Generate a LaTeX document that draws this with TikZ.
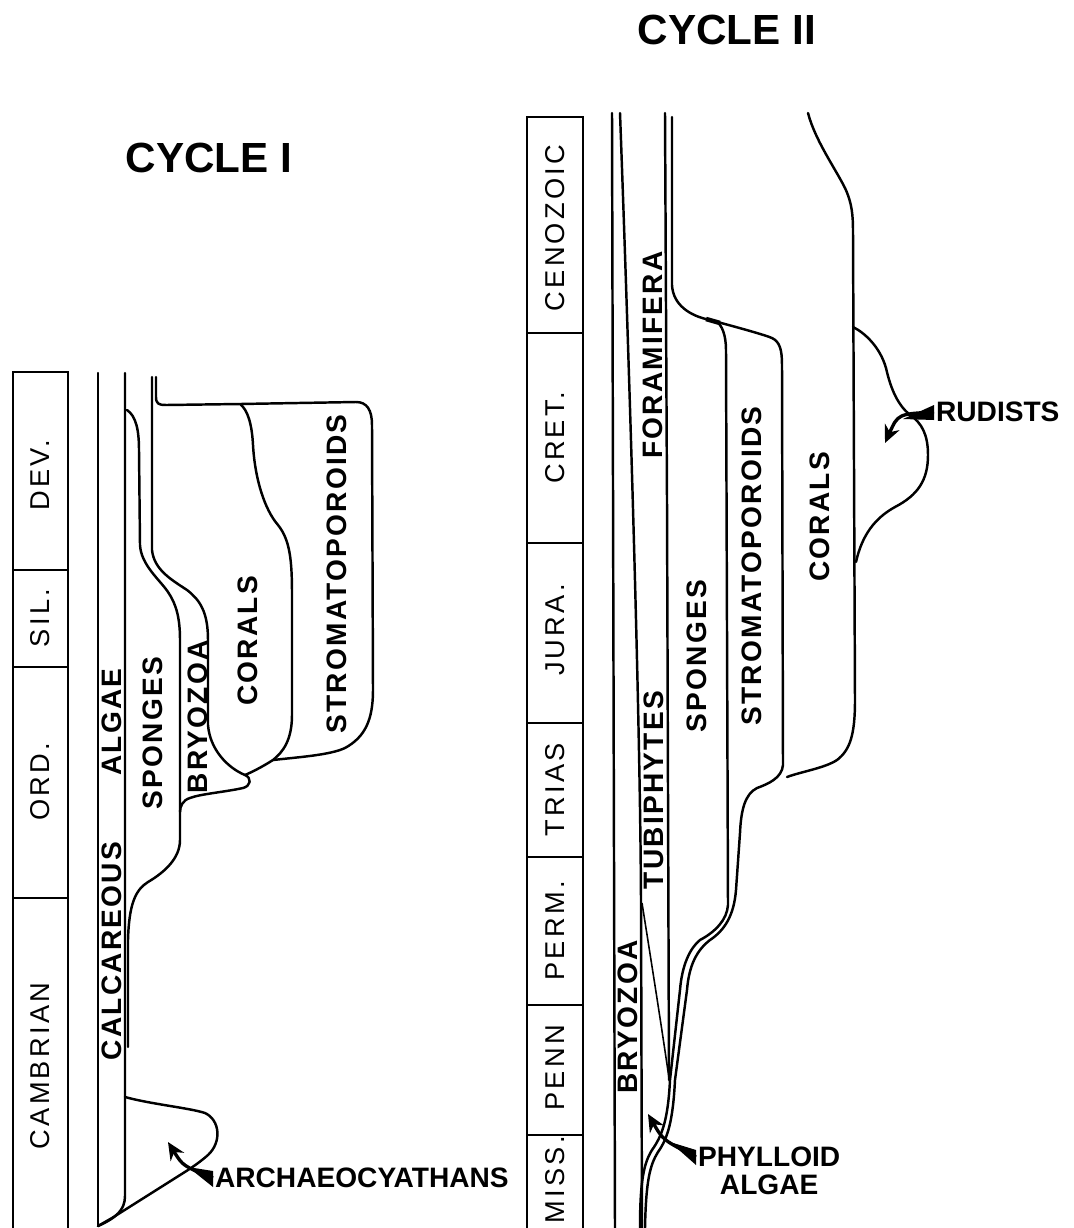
\documentclass[tikz,border=0pt]{standalone}
\usepackage{fontspec}
\setmainfont{Liberation Sans}
\newfontfamily\periodfont[LetterSpace=12]{Liberation Sans}
\newfontfamily\taxonfont[LetterSpace=8]{Liberation Sans}
\usetikzlibrary{arrows.meta,positioning,calc}

\tikzset{
  outline/.style={line width=1.4pt, line cap=round, line join=round},
  thinline/.style={line width=0.9pt},
  column/.style={line width=1.1pt},
  period/.style={rotate=90, inner sep=1pt, font=\periodfont\fontsize{15.5}{15.5}\selectfont},
  taxon/.style={rotate=90, inner sep=1pt, font=\taxonfont\bfseries\fontsize{16}{16}\selectfont},
  callout/.style={inner sep=1pt, font=\bfseries\fontsize{16}{16}\selectfont},
  cycletitle/.style={font=\bfseries\fontsize{24}{24}\selectfont},
  pointer/.style={line width=1.9pt, -{Stealth[length=10pt,width=9pt]}},
}

\begin{document}
\begin{tikzpicture}[x=0.02cm, y=-0.02cm]
  \useasboundingbox (0,0) rectangle (1074,1228);

  \node[cycletitle] (cycleI) at (209,158) {CYCLE I};
  \node[cycletitle] (cycleII) at (727,30) {CYCLE II};

  % time scale, cycle I
  \draw[column] (13,1228) |- (68,372) -- (68,1228);
  \foreach \y in {570,667,898}
    \draw[column] (13,\y) -- (68,\y);
  \foreach \y/\t/\n in {475/DEV./dev, 618/SIL./sil, 782/ORD./ord, 1066/CAMBRIAN/camb}
    \node[period] (\n) at (40,\y) {\t};

  % time scale, cycle II
  \draw[column] (527,1228) |- (583,117) -- (583,1228);
  \foreach \y in {333,543,723,857,1005,1135}
    \draw[column] (527,\y) -- (583,\y);
  \foreach \y/\t/\n in {228/CENOZOIC/ceno, 438/CRET./cret, 630/JURA./jura, 790/TRIAS/trias,
                        931/PERM./perm, 1068/PENN/penn, 1180/MISS./miss}
    \node[period] (\n) at (555,\y) {\t};

  % cycle I
  \draw[outline] (98,373) -- (98,1226);
  \draw[outline] (125,373) -- (125,1196) .. controls (125,1210) and (116,1218) .. (98,1226);
  \draw[outline] (125,1097) .. controls (150,1104) and (190,1108) .. (205,1113)
    .. controls (220,1120) and (222,1142) .. (208,1155)
    .. controls (200,1162) and (194,1166) .. (188,1170) -- (112,1218) -- (98,1226);
  \draw[outline] (127,410) .. controls (136,416) and (139,430) .. (139,450) -- (140,545)
    .. controls (141,565) and (160,580) .. (168,592) .. controls (177,605) and (180,620) .. (180,640)
    -- (180,840) .. controls (180,858) and (165,872) .. (148,882)
    .. controls (135,890) and (129,905) .. (128,940) -- (128,1047);
  \draw[outline] (152,377) -- (152,550) .. controls (154,570) and (172,580) .. (187,590)
    .. controls (200,600) and (208,612) .. (208,640) -- (208,725)
    .. controls (210,750) and (228,768) .. (245,775) .. controls (252,778) and (251,786) .. (243,788)
    .. controls (225,792) and (200,794) .. (190,798) .. controls (183,800) and (180,806) .. (180,812);
  \draw[outline] (156,377) -- (156,397) .. controls (156,404) and (159,405) .. (166,405) -- (240,404)
    -- (356,402) .. controls (367,402) and (372,410) .. (372,425) -- (373,690)
    .. controls (373,720) and (365,737) .. (345,748) .. controls (330,755) and (300,757) .. (273,760);
  \draw[outline] (240,404) .. controls (248,410) and (252,425) .. (253,445)
    .. controls (255,480) and (265,510) .. (278,525) .. controls (290,540) and (292,560) .. (292,595)
    -- (292,715) .. controls (292,740) and (283,752) .. (273,760)
    .. controls (262,767) and (252,772) .. (245,775);

  \node[taxon] (calc) at (112,951) {CALCAREOUS};
  \node[taxon] (algae) at (112,722) {ALGAE};
  \node[taxon] (spongesI) at (153,733) {SPONGES};
  \node[taxon] (bryozoaI) at (198,717) {BRYOZOA};
  \node[taxon] (coralsI) at (248,641) {CORALS};
  \node[taxon] (stromaI) at (337,574) {STROMATOPOROIDS};
  \node[callout, anchor=west] (archaeo) at (213,1178) {ARCHAEOCYATHANS};

  \coordinate (archtip) at (168,1142);
  \fill ($(archaeo.west)+(0,-7)$) -- ($(archaeo.west)+(0,9)$) -- (188,1167) -- cycle;
  \draw[pointer] (archaeo.west) .. controls (183,1166) .. (archtip);

  % cycle II
  \draw[outline] (612,113) -- (615,1228);
  \draw[outline] (620,113) .. controls (628,330) and (640,700) .. (641,900) -- (642,1228);
  \draw[outline] (665,113) -- (667,500) -- (669,1080);
  \draw[thinline] (642,903) .. controls (655,985) and (662,1030) .. (669,1078);
  \draw[outline] (716,321) .. controls (722,325) and (726,335) .. (726,350) -- (728,905)
    .. controls (727,920) and (715,932) .. (700,940) .. controls (690,948) and (682,965) .. (680,990)
    -- (670,1080) .. controls (668,1120) and (662,1136) .. (652,1150)
    .. controls (644,1163) and (640,1180) .. (640,1228);
  \draw[outline] (672,117) -- (672,285) .. controls (673,305) and (690,316) .. (710,320)
    .. controls (740,328) and (765,335) .. (772,338) .. controls (780,342) and (782,350) .. (782,365)
    -- (783,765) .. controls (782,778) and (768,784) .. (757,788)
    .. controls (745,794) and (741,810) .. (740,833) -- (736,890)
    .. controls (734,915) and (725,930) .. (710,940) .. controls (697,950) and (689,965) .. (687,990)
    -- (675,1080) .. controls (673,1120) and (668,1138) .. (658,1152)
    .. controls (650,1165) and (646,1180) .. (645,1228);
  \draw[line width=2.6pt] (706,319) -- (720,323);
  \draw[outline] (808,113) .. controls (815,140) and (835,168) .. (845,188)
    .. controls (852,203) and (853,215) .. (853,232) -- (855,700)
    .. controls (855,735) and (850,750) .. (837,760) .. controls (825,768) and (800,772) .. (787,777);
  \draw[outline] (853,327) .. controls (865,333) and (880,347) .. (886,368)
    .. controls (891,390) and (898,405) .. (910,415) .. controls (922,423) and (928,435) .. (928,455)
    .. controls (928,480) and (918,495) .. (895,507) .. controls (875,518) and (862,535) .. (856,562);

  \node[taxon] (foram) at (653,355) {FORAMIFERA};
  \node[taxon] (tubi) at (654,790) {TUBIPHYTES};
  \node[taxon] (bryozoaII) at (628,1017) {BRYOZOA};
  \node[taxon] (spongesII) at (697,656) {SPONGES};
  \node[taxon] (stromaII) at (752,566) {STROMATOPOROIDS};
  \node[taxon] (coralsII) at (820,517) {CORALS};
  \node[callout, anchor=west] (rudists) at (934,412) {RUDISTS};
  \node[callout, anchor=west] (phylloid) at (696,1157) {PHYLLOID};
  \node[callout, below=2pt of phylloid] (phyalgae) {ALGAE};

  \coordinate (rudtip) at (885,443);
  \fill ($(rudists.west)+(0,-7)$) -- ($(rudists.west)+(0,8)$) -- (903,419) -- cycle;
  \draw[pointer] (rudists.west) .. controls (898,414) .. (rudtip);

  \coordinate (phytip) at (648,1114);
  \fill ($(phylloid.west)+(0,-7)$) -- ($(phylloid.west)+(0,8)$) -- (670,1142) -- cycle;
  \draw[pointer] (phylloid.west) .. controls (663,1140) .. (phytip);
\end{tikzpicture}
\end{document}
